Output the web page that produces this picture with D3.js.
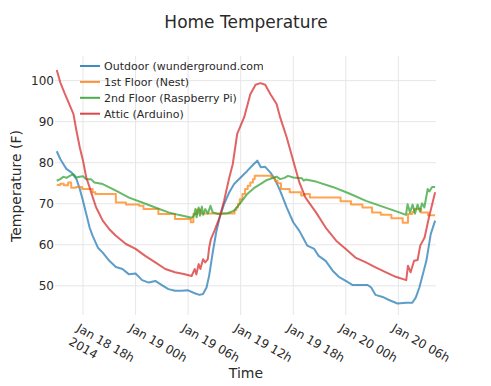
<!DOCTYPE html>
<html>
<head>
<meta charset="utf-8">
<script src="https://cdn.jsdelivr.net/npm/d3@7"></script>
<style>
  body { margin: 0; background: #fff; }
  text { font-family: "DejaVu Sans", sans-serif; fill: #2a2a2a; }
</style>
</head>
<body>
<div id="chart"></div>
<script>
// readings: [hours after 2014-01-18 18:00, temperature F]
var outdoor = [[-3.0,82.8],[-2.6,80.9],[-2.25,79.7],[-1.9,78.5],[-1.3,77.6],[-0.75,76.0],[-0.37,73.6],[0,70.7],
  [0.37,67.5],[0.75,64.2],[1.1,62.2],[1.7,59.3],[2.25,58.1],[3.0,56.1],[3.75,54.6],[4.5,54.1],[5.25,52.8],[6.0,53.0],
  [6.75,51.4],[7.5,50.8],[8.25,51.2],[9.0,50.2],[9.75,49.2],[10.5,48.8],[11.25,48.8],[12.0,48.9],[12.75,48.2],
  [13.3,47.8],[13.7,48.0],[14.1,49.6],[14.4,52.5],[14.8,58.0],[15.2,63.0],[15.6,66.7],[16.1,69.9],[16.7,72.8],
  [17.25,74.8],[18.0,76.4],[18.75,78.0],[19.5,79.7],[19.9,80.5],[20.3,78.9],[20.8,79.0],[21.4,77.6],[21.9,76.0],
  [22.5,73.2],[23.25,69.1],[24.0,65.5],[24.7,63.4],[25.2,61.4],[25.6,59.8],[26.4,59.0],[26.9,57.3],[27.7,56.1],
  [28.5,53.7],[29.2,52.2],[30.0,51.2],[30.8,50.2],[31.5,50.2],[32.5,50.2],[32.9,49.6],[33.4,47.8],[34.2,47.3],
  [35.0,46.5],[35.9,45.7],[36.9,45.9],[37.6,45.9],[38.0,47.2],[38.4,49.6],[38.8,52.8],[39.2,56.1],[39.7,62.6],[40.2,65.9]];

var firstFloor = [[-3.0,74.6],[-2.6,74.9],[-2.2,74.5],[-1.7,75.2],[-1.35,73.9],[-0.8,74.1],[-0.1,73.6],[1.1,72.8],
  [1.4,72.4],[3.75,70.3],[4.9,69.8],[6.4,69.5],[6.9,68.7],[8.6,67.5],[10.5,66.3],[12.3,65.5],[12.6,67.5],[13.0,68.6],
  [13.4,67.6],[17.3,68.5],[17.5,69.1],[17.7,70.0],[17.9,71.1],[18.2,72.4],[18.5,73.6],[18.8,74.4],[19.1,75.2],
  [19.4,76.0],[19.6,76.8],[21.5,76.4],[21.9,75.6],[22.2,75.0],[22.6,73.6],[23.6,72.8],[24.9,72.0],[25.2,72.4],
  [25.9,71.5],[29.4,70.6],[30.6,69.8],[31.9,69.1],[33.0,67.9],[34.0,67.3],[35.2,66.5],[36.5,65.4],[37.1,67.5],
  [37.6,68.0],[37.8,68.7],[38.6,67.9],[39.4,67.2],[40.2,67.2]];

var secondFloor = [[-3.0,75.6],[-2.6,76.0],[-2.25,76.6],[-1.9,76.3],[-1.5,76.8],[-1.1,77.2],[-0.75,76.4],[-0.37,76.6],
  [0,76.7],[0.37,76.0],[0.9,76.0],[1.3,75.2],[2.25,74.8],[3.75,73.2],[5.25,71.5],[6.75,70.3],[8.25,69.1],[9.75,67.9],
  [10.9,67.3],[12.4,66.6],[12.67,67.1],[12.82,68.7],[12.97,66.7],[13.2,69.1],[13.35,67.1],[13.57,69.3],[13.72,67.3],
  [13.95,68.7],[14.25,67.6],[14.55,69.5],[14.8,67.9],[15.4,67.5],[16.5,67.7],[17.25,68.3],[18.0,70.3],[18.75,72.4],
  [19.5,73.8],[20.25,74.8],[21.0,75.8],[21.75,76.3],[22.1,76.6],[22.5,76.0],[23.0,76.3],[23.4,76.8],[24.0,76.4],
  [24.6,76.3],[25.0,76.2],[25.2,75.6],[25.4,75.9],[26.6,75.4],[28.5,74.1],[30.4,72.5],[32.3,70.7],[34.2,69.3],
  [36.1,67.9],[36.87,67.3],[37.06,69.9],[37.33,67.9],[37.63,69.8],[37.9,67.6],[38.2,69.8],[38.47,68.1],[38.7,70.1],
  [38.97,69.1],[39.35,73.6],[39.54,73.0],[39.85,74.1],[40.2,74.1]];

var attic = [[-3.0,102.6],[-2.6,99.6],[-2.06,96.7],[-1.5,93.9],[-1.1,91.9],[-0.75,87.8],[-0.37,83.7],[0,80.5],
  [0.37,76.4],[0.75,74.0],[1.12,71.5],[1.5,69.1],[2.25,65.9],[3.0,63.8],[3.75,62.2],[4.9,60.2],[6.0,59.0],[7.1,57.3],
  [8.25,55.7],[9.4,54.1],[10.5,53.3],[11.5,52.9],[12.4,52.4],[12.75,54.1],[12.94,52.8],[13.2,55.3],[13.4,54.1],
  [13.7,56.5],[13.95,55.7],[14.25,56.5],[14.4,59.3],[14.6,61.4],[15.0,63.4],[15.6,66.7],[16.1,70.7],[16.7,76.4],
  [17.1,79.7],[17.6,87.0],[18.4,91.1],[19.1,96.7],[19.7,99.0],[20.25,99.4],[20.8,99.0],[21.4,96.7],[22.1,94.3],
  [22.5,91.1],[23.25,86.2],[24.0,80.5],[24.7,75.2],[25.4,71.5],[26.6,67.9],[27.7,64.2],[28.9,61.0],[30.0,59.0],
  [31.1,56.9],[32.3,55.7],[33.4,54.5],[34.6,53.3],[35.7,52.2],[36.9,51.4],[37.1,54.9],[37.4,53.3],[37.8,56.1],
  [38.2,56.3],[38.5,59.8],[39.0,61.8],[39.5,66.7],[40.2,72.8]];

var seriesNames = ["Outdoor (wunderground.com)", "1st Floor (Nest)", "2nd Floor (Raspberry Pi)", "Attic (Arduino)"];
var yTicks = [50, 60, 70, 80, 90, 100];
var colours = ["#1f77b4", "#ff7f0e", "#2ca02c", "#d62728"];

var width = 491, height = 386;
var plot = { left: 55, right: 436, top: 56, bottom: 315 };
var t0 = new Date(2014, 0, 18, 18);

function toDate(h) { return new Date(t0.getTime() + h * 3600e3); }

var svg = d3.select("#chart").append("svg")
  .attr("width", width)
  .attr("height", height);

var scaleX = d3.scaleTime()
  .domain([toDate(-3.2), toDate(40.3)])
  .range([plot.left, plot.right]);

var scaleY = d3.scaleLinear()
  .domain([42.9, 106.0])
  .range([plot.bottom, plot.top]);

// grid
var xTicks = scaleX.ticks(d3.timeHour.every(6));
svg.append("g").selectAll("line")
  .data(xTicks).enter().append("line")
  .attr("x1", function (d) { return scaleX(d); })
  .attr("x2", function (d) { return scaleX(d); })
  .attr("y1", plot.top).attr("y2", plot.bottom)
  .attr("stroke", "#e6e6e6").attr("stroke-width", 1);

svg.append("g").selectAll("line")
  .data(yTicks).enter().append("line")
  .attr("x1", plot.left).attr("x2", plot.right)
  .attr("y1", function (d) { return scaleY(d); })
  .attr("y2", function (d) { return scaleY(d); })
  .attr("stroke", "#e6e6e6").attr("stroke-width", 1);

// y tick labels
svg.append("g").selectAll("text")
  .data(yTicks).enter().append("text")
  .attr("x", 54)
  .attr("y", function (d) { return scaleY(d); })
  .attr("dy", "0.35em")
  .attr("text-anchor", "end")
  .style("font-size", "12px")
  .text(function (d) { return d; });

// x tick labels, rotated
var fmt = d3.timeFormat("%b %d %Hh");
var xl = svg.append("g").selectAll("text")
  .data(xTicks).enter().append("text")
  .attr("transform", function (d) { return "translate(" + scaleX(d) + ",322) rotate(30)"; })
  .style("font-size", "12px");
xl.append("tspan").attr("x", -2).attr("y", 11).text(function (d) { return fmt(d); });
xl.filter(function (d, i) { return i === 0; })
  .append("tspan").attr("x", -2).attr("y", 26.5).text("2014");

// lines
var line = d3.line()
  .x(function (d) { return scaleX(toDate(d[0])); })
  .y(function (d) { return scaleY(d[1]); });

var data = [outdoor, firstFloor, secondFloor, attic];
data.forEach(function (series, i) {
  svg.append("path")
    .datum(series)
    .attr("fill", "none")
    .attr("stroke", colours[i])
    .attr("stroke-width", 2)
    .attr("stroke-opacity", 0.72)
    .attr("stroke-linejoin", "round")
    .attr("d", i === 1 ? line.curve(d3.curveStepAfter)(series) : line.curve(d3.curveLinear)(series));
});

// legend (text is cut off at the right edge, like the original)
svg.append("clipPath").attr("id", "legclip")
  .append("rect").attr("x", 0).attr("y", 0).attr("width", 263).attr("height", 200);

var legend = svg.append("g").attr("clip-path", "url(#legclip)")
  .selectAll("g").data(seriesNames).enter().append("g")
  .attr("transform", function (d, i) { return "translate(0," + (66 + i * 15.9) + ")"; });
legend.append("line")
  .attr("x1", 80).attr("x2", 100)
  .attr("stroke", function (d, i) { return colours[i]; })
  .attr("stroke-width", 2)
  .attr("stroke-opacity", 0.85);
legend.append("text")
  .attr("x", 104).attr("dy", "0.36em")
  .style("font-size", "11px")
  .text(function (d) { return d; });

// titles
svg.append("text")
  .attr("x", 246).attr("y", 28)
  .attr("text-anchor", "middle")
  .style("font-size", "17px")
  .text("Home Temperature");

svg.append("text")
  .attr("x", 246).attr("y", 378)
  .attr("text-anchor", "middle")
  .style("font-size", "14px")
  .text("Time");

svg.append("text")
  .attr("transform", "translate(21,186) rotate(-90)")
  .attr("text-anchor", "middle")
  .style("font-size", "14px")
  .text("Temperature (F)");
</script>
</body>
</html>
